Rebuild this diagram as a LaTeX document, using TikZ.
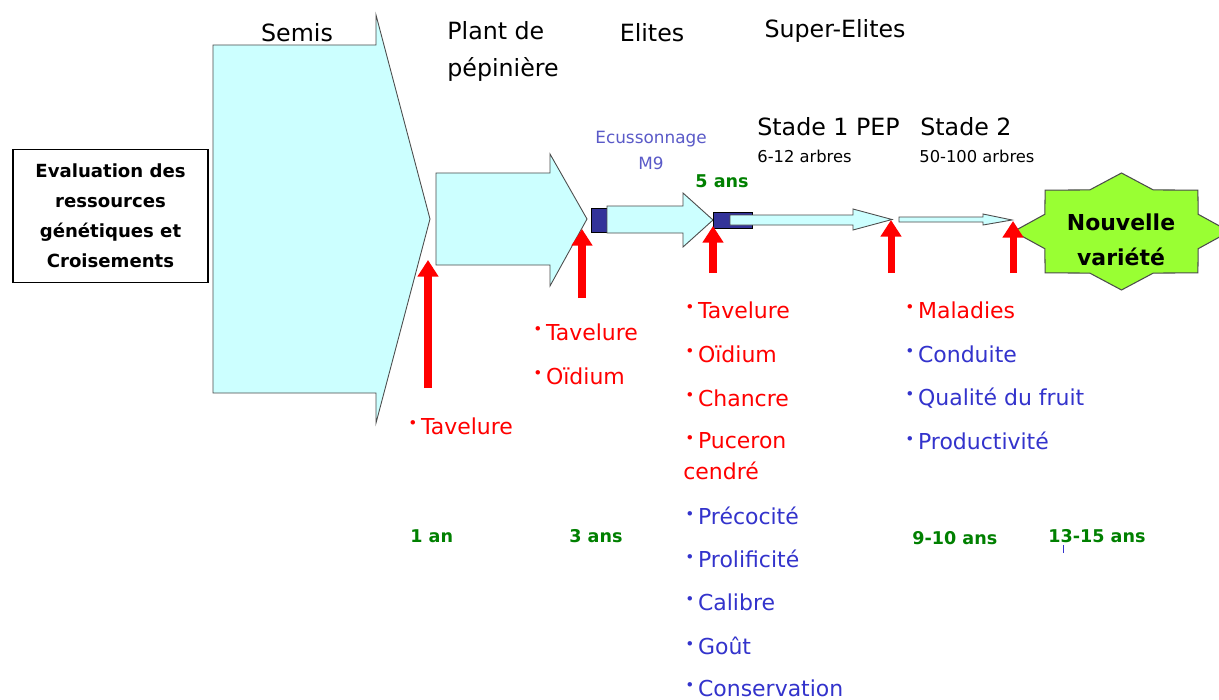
\documentclass[tikz,border=0pt]{standalone}
\usepackage{fontspec}
\setmainfont{DejaVu Sans}
\usetikzlibrary{arrows.meta}

\definecolor{pale}{RGB}{204,255,255}
\definecolor{navy}{RGB}{51,51,153}
\definecolor{itemblue}{RGB}{51,51,204}
\definecolor{ecublue}{RGB}{90,90,200}
\definecolor{agegreen}{RGB}{0,128,0}
\definecolor{lime}{RGB}{153,255,51}

\newcommand{\bul}{\raisebox{.45ex}{\scalebox{.7}{•}}\,}

\begin{document}
\begin{tikzpicture}[x=0.02cm, y=-0.02cm,
	flow_arrow/.style={fill=pale, draw=black!70, line width=0.5pt},
	stub/.style={fill=navy, draw=black, line width=0.5pt},
	red_up/.style={red, line width=4pt, -{Triangle[length=9.5pt, width=11.5pt]}},
	title_node/.style={inner sep=0pt, font=\fontsize{13.5}{21}\selectfont},
	small_node/.style={inner sep=0pt, font=\fontsize{9.3}{12}\selectfont},
	red_item/.style={inner sep=0pt, anchor=west, red, font=\fontsize{12.5}{17}\selectfont},
	blue_item/.style={red_item, itemblue},
	age_node/.style={inner sep=0pt, anchor=west, agegreen, font=\bfseries\fontsize{10}{12}\selectfont}]
	\useasboundingbox[fill=white] (0,0) rectangle (1219,699);

	\node[draw, line width=0.6pt, minimum width=111pt, minimum height=76pt, align=center, font=\bfseries\fontsize{10.3}{17}\selectfont](eval) at (110.5,216){Evaluation des\\ressources\\génétiques et\\Croisements};

	\draw[flow_arrow] (213,45) -- (376,45) -- (376,15) -- (430,219) -- (376,423) -- (376,393) -- (213,393) -- cycle;
	\draw[flow_arrow] (436,173) -- (550,173) -- (550,154) -- (587,219) -- (550,286) -- (550,265) -- (436,265) -- cycle;
	\draw[stub] (591,208) rectangle (607,232);
	\draw[flow_arrow] (607,206) -- (683,206) -- (683,193) -- (713,220) -- (683,247) -- (683,233) -- (607,233) -- cycle;
	\draw[stub] (713,212) rectangle (752,228);
	\draw[flow_arrow] (730,215) -- (853,215) -- (853,209) -- (892,219.5) -- (853,230) -- (853,225) -- (730,225) -- cycle;
	\draw[flow_arrow] (899,217) -- (983,217) -- (983,214) -- (1012,220) -- (983,225) -- (983,222) -- (899,222) -- cycle;

	\draw[fill=lime, draw=black!70, line width=0.6pt, shift={(1121.5,231.5)}] (0:108 and 58.5)
		\foreach \a in {0,45,...,315} { -- (\a+22.5:83 and 45) -- (\a+45:108 and 58.5)} -- cycle;
	\node[align=center, font=\bfseries\fontsize{12.5}{20}\selectfont](nouvelle) at (1121,240){Nouvelle\\variété};

	\coordinate (b1) at (428,388);
	\coordinate (t1) at (428,260);
	\coordinate (b2) at (582,298);
	\coordinate (t2) at (582,229);
	\coordinate (b3) at (713,273);
	\coordinate (t3) at (713,226);
	\coordinate (b4) at (891,273);
	\coordinate (t4) at (891,220);
	\coordinate (b5) at (1013,273);
	\coordinate (t5) at (1013,221);
	\foreach \i in {1,...,5}
		\draw[red_up] (b\i) -- (t\i);

	\node[title_node](semis) at (297,33){Semis};
	\node[title_node, anchor=west, align=left](plant) at (447,51.5){Plant de\\pépinière};
	\node[title_node](elites) at (652,33){Elites};
	\node[title_node](super) at (835,31){Super-Elites};
	\node[inner sep=0pt, align=center, ecublue, font=\fontsize{9.6}{15.3}\selectfont](ecu) at (651,150.5){Ecussonnage\\M9};
	\node[age_node, anchor=center](cinq) at (722,181){5 ans};
	\node[title_node, anchor=west](stade1) at (757,127){Stade 1 PEP};
	\node[small_node, anchor=west](arbres1) at (757,156){6-12 arbres};
	\node[title_node, anchor=west](stade2) at (920,127){Stade 2};
	\node[small_node, anchor=west](arbres2) at (919,156){50-100 arbres};

	\node[red_item](tav1) at (408,426){\bul Tavelure};
	\node[red_item](tav2) at (533,332){\bul Tavelure};
	\node[red_item](oid2) at (533,376){\bul Oïdium};

	\node[red_item](tav3) at (685,310){\bul Tavelure};
	\node[red_item](oid3) at (685,354){\bul Oïdium};
	\node[red_item](chancre) at (685,398){\bul Chancre};
	\node[red_item](puceron) at (685,441){\bul Puceron};
	\node[red_item](cendre) at (683,471){cendré};
	\node[blue_item](precocite) at (685,516){\bul Précocité};
	\node[blue_item](prolificite) at (685,559){\bul Prolificité};
	\node[blue_item](calibre) at (685,602){\bul Calibre};
	\node[blue_item](gout) at (685,646){\bul Goût};
	\node[blue_item](conservation) at (685,688){\bul Conservation};

	\node[red_item](maladies) at (905,310){\bul Maladies};
	\node[blue_item](conduite) at (905,354){\bul Conduite};
	\node[blue_item](qualite) at (905,398){\bul Qualité du fruit};
	\node[blue_item](productivite) at (905,441){\bul Productivité};

	\node[age_node](an1) at (410,536){1 an};
	\node[age_node](an3) at (569,536){3 ans};
	\node[age_node](an9) at (912,538){9-10 ans};
	\node[age_node](an13) at (1048,536){13-15 ans};
	\draw[itemblue, line width=0.5pt] (an13.south west) ++(15,2) coordinate (tick) -- ++(0,8);
\end{tikzpicture}
\end{document}
